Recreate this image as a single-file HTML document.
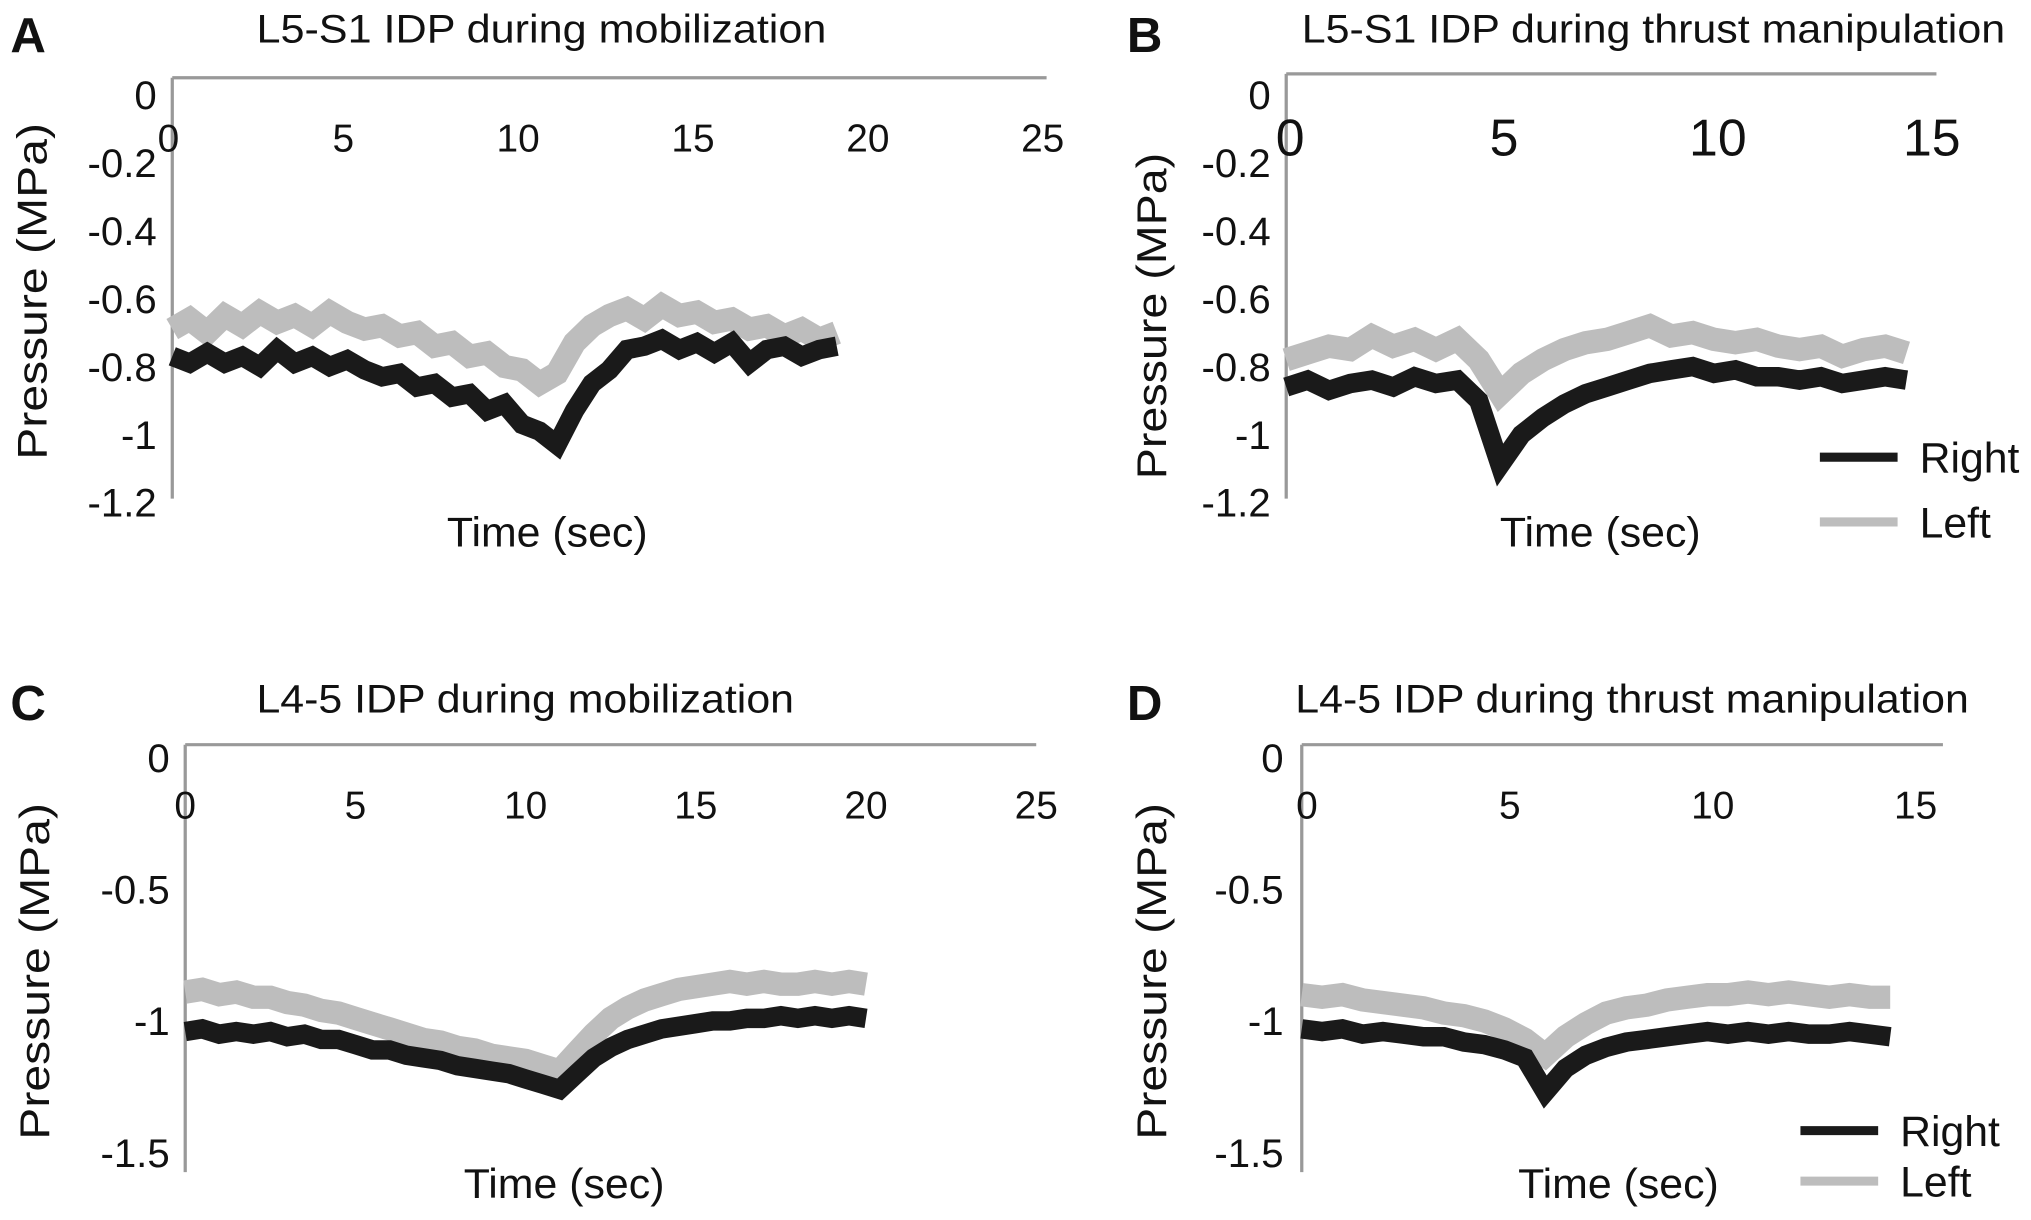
<!DOCTYPE html>
<html><head><meta charset="utf-8"><style>
html,body{margin:0;padding:0;background:#fff}
svg{display:block}
text{font-family:"Liberation Sans Narrow","Liberation Sans",Arial,sans-serif;fill:#111}
</style></head><body>
<svg id="fig" width="2031" height="1220" viewBox="0 0 1568 942" preserveAspectRatio="none" xmlns="http://www.w3.org/2000/svg"></svg>
<script>
const timeStep = 0.5;
const aRight = [-0.77,-0.79,-0.76,-0.79,-0.77,-0.80,-0.75,-0.79,-0.77,-0.80,-0.78,-0.81,-0.83,-0.82,-0.86,-0.85,-0.89,-0.88,-0.93,-0.91,-0.97,-0.99,-1.03,-0.93,-0.85,-0.81,-0.75,-0.74,-0.72,-0.75,-0.73,-0.76,-0.73,-0.79,-0.75,-0.74,-0.77,-0.75,-0.74];
const aLeft = [-0.69,-0.66,-0.70,-0.65,-0.68,-0.64,-0.67,-0.65,-0.68,-0.64,-0.67,-0.69,-0.68,-0.71,-0.70,-0.74,-0.73,-0.77,-0.76,-0.80,-0.81,-0.85,-0.82,-0.73,-0.68,-0.65,-0.63,-0.66,-0.62,-0.65,-0.64,-0.67,-0.66,-0.69,-0.68,-0.71,-0.69,-0.72,-0.70];
const bRight = [-0.86,-0.84,-0.87,-0.85,-0.84,-0.86,-0.83,-0.85,-0.84,-0.90,-1.09,-1.00,-0.95,-0.91,-0.88,-0.86,-0.84,-0.82,-0.81,-0.80,-0.82,-0.81,-0.83,-0.83,-0.84,-0.83,-0.85,-0.84,-0.83,-0.84];
const bLeft = [-0.78,-0.76,-0.74,-0.75,-0.71,-0.74,-0.72,-0.75,-0.72,-0.78,-0.88,-0.82,-0.78,-0.75,-0.73,-0.72,-0.70,-0.68,-0.71,-0.70,-0.72,-0.73,-0.72,-0.74,-0.75,-0.74,-0.77,-0.75,-0.74,-0.76];
const cRight = [-1.04,-1.03,-1.05,-1.04,-1.05,-1.04,-1.06,-1.05,-1.07,-1.07,-1.09,-1.11,-1.11,-1.13,-1.14,-1.15,-1.17,-1.18,-1.19,-1.20,-1.22,-1.24,-1.26,-1.20,-1.14,-1.10,-1.07,-1.05,-1.03,-1.02,-1.01,-1.00,-1.00,-0.99,-0.99,-0.98,-0.99,-0.98,-0.99,-0.98,-0.99];
const cLeft = [-0.89,-0.88,-0.90,-0.89,-0.91,-0.91,-0.93,-0.94,-0.96,-0.97,-0.99,-1.01,-1.03,-1.05,-1.07,-1.08,-1.10,-1.11,-1.13,-1.14,-1.15,-1.17,-1.19,-1.12,-1.05,-0.99,-0.95,-0.92,-0.90,-0.88,-0.87,-0.86,-0.85,-0.86,-0.85,-0.86,-0.86,-0.85,-0.86,-0.85,-0.86];
const dRight = [-1.03,-1.04,-1.03,-1.05,-1.04,-1.05,-1.06,-1.06,-1.08,-1.09,-1.11,-1.14,-1.27,-1.18,-1.13,-1.10,-1.08,-1.07,-1.06,-1.05,-1.04,-1.05,-1.04,-1.05,-1.04,-1.05,-1.05,-1.04,-1.05,-1.06];
const dLeft = [-0.90,-0.91,-0.90,-0.92,-0.93,-0.94,-0.95,-0.97,-0.98,-1.00,-1.03,-1.07,-1.13,-1.06,-1.01,-0.97,-0.95,-0.94,-0.92,-0.91,-0.90,-0.90,-0.89,-0.90,-0.89,-0.90,-0.91,-0.90,-0.91,-0.91];
const yTicksTop = [0,-0.2,-0.4,-0.6,-0.8,-1,-1.2];
const yTicksBottom = [0,-0.5,-1,-1.5];
const xTicksMob = [0,5,10,15,20,25];
const xTicksThrust = [0,5,10,15];

const svg = document.getElementById('fig');
const NS = 'http://www.w3.org/2000/svg';
function mk(tag, attrs, parent){const e=document.createElementNS(NS,tag);for(const k in attrs)e.setAttribute(k,attrs[k]);(parent||svg).appendChild(e);return e;}

const panels = [
 {id:'a',letter:'A',title:'L5-S1 IDP during mobilization',lx:8,ly:40,t0:198,t1:638,ty:33,x0:133,x1:808,xmax:25,axisY:60,yBot:385,y0:73,ymin:-1.2,yMinPx:388,tickR:121,yt:yTicksTop,xt:xTicksMob,xl:117,xfs:30,xoff:-3,right:aRight,left:aLeft,legend:null,tt0:345,tt1:500,ttY:422,ytX:36,yt0:95,yt1:355},
 {id:'b',letter:'B',title:'L5-S1 IDP during thrust manipulation',lx:870,ly:40,t0:1005,t1:1548,ty:33,x0:993,x1:1495,xmax:15.2,axisY:57,yBot:385,y0:73,ymin:-1.2,yMinPx:388,tickR:981,yt:yTicksTop,xt:xTicksThrust,xl:120,xfs:40,xoff:3,right:bRight,left:bLeft,legend:{x:1405,y1:353,y2:403,tx:1482},tt0:1158,tt1:1313,ttY:422,ytX:900,yt0:118,yt1:370},
 {id:'c',letter:'C',title:'L4-5 IDP during mobilization',lx:8,ly:556,t0:198,t1:613,ty:550,x0:143,x1:800,xmax:25,axisY:575,yBot:905,y0:585,ymin:-1.5,yMinPx:890,tickR:131,yt:yTicksBottom,xt:xTicksMob,xl:632,xfs:30,xoff:0,right:cRight,left:cLeft,legend:null,tt0:358,tt1:513,ttY:925,ytX:38,yt0:620,yt1:880},
 {id:'d',letter:'D',title:'L4-5 IDP during thrust manipulation',lx:870,ly:556,t0:1000,t1:1520,ty:550,x0:1005,x1:1500,xmax:15.8,axisY:575,yBot:905,y0:585,ymin:-1.5,yMinPx:890,tickR:991,yt:yTicksBottom,xt:xTicksThrust,xl:632,xfs:30,xoff:4,right:dRight,left:dLeft,legend:{x:1390,y1:873,y2:912,tx:1467},tt0:1172,tt1:1327,ttY:925,ytX:900,yt0:620,yt1:880}
];

panels.forEach(p=>{
  const g = mk('g',{});
  
  
  const xs = v => p.x0 + v/p.xmax*(p.x1-p.x0);
  const ys = v => p.y0 + (v/p.ymin)*(p.yMinPx-p.y0);
  const L = mk('text',{x:p.lx,y:p.ly,'font-size':38,'font-weight':'bold','font-family':'Liberation Sans, Arial, sans-serif'},g); L.textContent=p.letter;
   
  const T = mk('text',{x:p.t0,y:p.ty,'font-size':31,textLength:p.t1-p.t0,lengthAdjust:'spacingAndGlyphs'},g); T.textContent=p.title;
   
  const xa = mk('line',{x1:p.x0,y1:p.axisY,x2:p.x1,y2:p.axisY,stroke:'#999','stroke-width':2.5},g);
   
  const ya = mk('line',{x1:p.x0,y1:p.axisY,x2:p.x0,y2:p.yBot,stroke:'#999','stroke-width':2.5},g);
   
  p.yt.forEach(v=>{
    const t = mk('text',{x:p.tickR,y:ys(v)+11,'font-size':31,'text-anchor':'end'},g); t.textContent=String(v);
     
  });
  p.xt.forEach(v=>{
    const t = mk('text',{x:xs(v)+p.xoff,y:p.xl,'font-size':p.xfs,'text-anchor':'middle'},g); t.textContent=String(v);
     
  });
  const xt = mk('text',{x:p.tt0,y:p.ttY,'font-size':32,textLength:p.tt1-p.tt0,lengthAdjust:'spacingAndGlyphs'},g); xt.textContent='Time (sec)';
   
  const yt = mk('text',{x:0,y:0,'font-size':32,textLength:p.yt1-p.yt0,lengthAdjust:'spacingAndGlyphs',transform:`translate(${p.ytX} ${p.yt1}) rotate(-90)`},g); yt.textContent='Pressure (MPa)';
   
  const pts = arr => arr.map((v,i)=>xs(i*timeStep).toFixed(1)+','+ys(v).toFixed(1)).join(' ');
  const lg = mk('polyline',{points:pts(p.left),fill:'none',stroke:'#bdbdbd','stroke-width':18,'stroke-linejoin':'miter'},g);
   
  const rb = mk('polyline',{points:pts(p.right),fill:'none',stroke:'#1a1a1a','stroke-width':15,'stroke-linejoin':'miter'},g);
   
  if(p.legend){
    const l1 = mk('line',{x1:p.legend.x,y1:p.legend.y1,x2:p.legend.x+60,y2:p.legend.y1,stroke:'#1a1a1a','stroke-width':7},g);
     
    const t1 = mk('text',{x:p.legend.tx,y:p.legend.y1+12,'font-size':33},g); t1.textContent='Right';
     
    const l2 = mk('line',{x1:p.legend.x,y1:p.legend.y2,x2:p.legend.x+60,y2:p.legend.y2,stroke:'#bdbdbd','stroke-width':7},g);
     
    const t2 = mk('text',{x:p.legend.tx,y:p.legend.y2+12,'font-size':33},g); t2.textContent='Left';
     
  }
});
</script>
</body></html>
